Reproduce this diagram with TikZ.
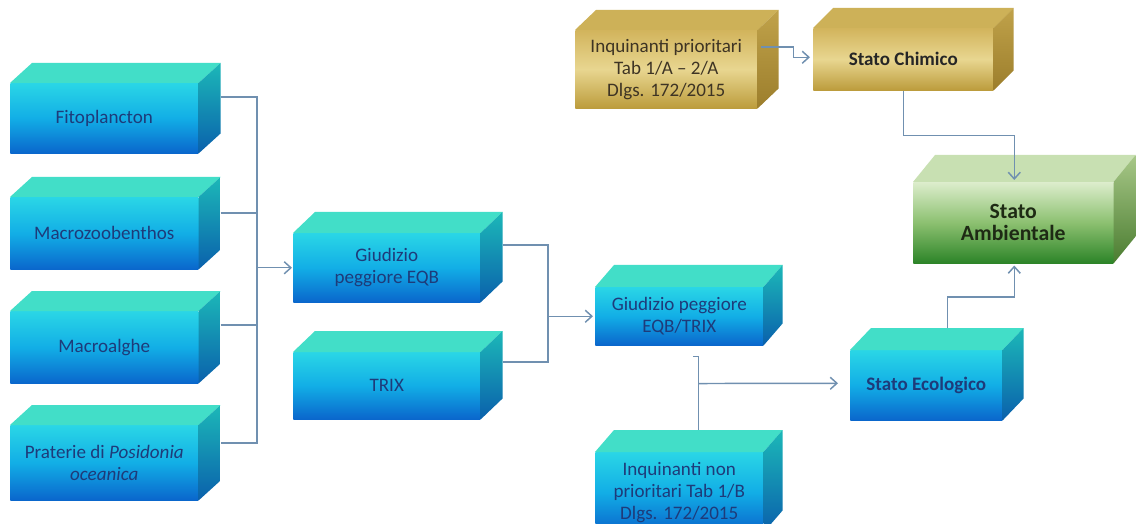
\documentclass[tikz,border=0pt]{standalone}
\usepackage{fontspec}
\setmainfont{Carlito}
\usetikzlibrary{calc,arrows.meta}
\definecolor{bl1}{HTML}{2AD6E6}
\definecolor{bl2}{HTML}{12AEE6}
\definecolor{bl3}{HTML}{0A66CC}
\definecolor{bltop}{HTML}{42DEC8}
\definecolor{blside1}{HTML}{1CB8B8}
\definecolor{blside2}{HTML}{0A60AC}
\definecolor{go1}{HTML}{D2B45C}
\definecolor{go2}{HTML}{E8D690}
\definecolor{go3}{HTML}{BC9C3C}
\definecolor{gotop}{HTML}{CDB158}
\definecolor{goside1}{HTML}{C0A24A}
\definecolor{goside2}{HTML}{9C7E2C}
\definecolor{gr1}{HTML}{DCEDCC}
\definecolor{gr2}{HTML}{8CC070}
\definecolor{gr3}{HTML}{2C8428}
\definecolor{grtop}{HTML}{C8E0B2}
\definecolor{grside1}{HTML}{A8C888}
\definecolor{grside2}{HTML}{4A7C30}
\definecolor{txtblue}{HTML}{1E3B7A}
\definecolor{txtgold}{HTML}{3E3424}
\definecolor{txtgreen}{HTML}{1E2A14}
\definecolor{connc}{HTML}{7090B0}
\newcommand\boxsides[6]{%
  \fill[#4] (#1.north west) -- ++(#2,-#3) -- ($(#1.north east)+(#2,-#3)$) -- (#1.north east) -- cycle;
  \shade[top color=#5,bottom color=#6] (#1.north east) -- ++(#2,-#3) -- ($(#1.south east)+(#2,-#3)$) -- (#1.south east) -- cycle;}
\begin{document}
\begin{tikzpicture}[x=0.75pt,y=-0.75pt,
  sz/.style 2 args={minimum width=#1*0.75pt, minimum height=#2*0.75pt},
  box/.style={draw=none, align=center, inner sep=1pt, anchor=north west,
    font=\fontsize{14.3}{16.5}\selectfont},
  bluebox/.style={box, text=txtblue, top color=bl1, bottom color=bl3, middle color=bl2},
  goldbox/.style={box, text=txtgold, top color=go1, bottom color=go3, middle color=go2},
  greenbox/.style={box, text=txtgreen, top color=gr1, bottom color=gr3, middle color=gr2},
  conn/.style={draw=connc, line width=1.1pt},
  arr/.style={conn, -{Straight Barb[length=5pt,width=9pt,line width=1.1pt]}}]
\useasboundingbox (0,0) rectangle (1136,524);
\fill[white] (0,0) rectangle (1136,524);
\clip (0,0) rectangle (1136,524);

% left column
\node[bluebox, sz={188}{70}] (fito) at (10,83) {Fitoplancton};
\node[bluebox, sz={188}{72}] (macro) at (10,197) {Macrozoobenthos};
\node[bluebox, sz={188}{72}] (alghe) at (10,311) {Macroalghe};
\node[bluebox, sz={188}{75}] (prat) at (10,425) {Praterie di \textit{Posidonia}\\\textit{oceanica}};
\boxsides{fito}{22}{20}{bltop}{blside1}{blside2}
\boxsides{macro}{22}{20}{bltop}{blside1}{blside2}
\boxsides{alghe}{22}{20}{bltop}{blside1}{blside2}
\boxsides{prat}{22}{20}{bltop}{blside1}{blside2}

% middle column
\node[bluebox, sz={187}{69}] (giud) at (293,233) {Giudizio\\peggiore EQB};
\node[bluebox, sz={187}{67}] (trix) at (293,352) {TRIX};
\boxsides{giud}{22}{21}{bltop}{blside1}{blside2}
\boxsides{trix}{22}{21}{bltop}{blside1}{blside2}

\node[bluebox, sz={168}{58}] (eqbtrix) at (595,287) {Giudizio peggiore\\EQB/TRIX};
\node[bluebox, sz={168}{80}] (inqnp) at (595,452) {Inquinanti non\\prioritari Tab 1/B\\Dlgs. 172/2015};
\boxsides{eqbtrix}{19}{22}{bltop}{blside1}{blside2}
\boxsides{inqnp}{19}{22}{bltop}{blside1}{blside2}

\node[bluebox, sz={152}{70}, font=\fontsize{14.3}{16.5}\selectfont\bfseries] (ecol) at (850,350) {Stato Ecologico};
\boxsides{ecol}{21}{22}{bltop}{blside1}{blside2}

% gold
\node[goldbox, sz={182}{78}] (inqp) at (575,30) {Inquinanti prioritari\\Tab 1/A -- 2/A\\Dlgs. 172/2015};
\node[goldbox, sz={180}{62}, font=\fontsize{14.3}{16.5}\selectfont\bfseries, text=black!85] (chim) at (813,28) {Stato Chimico};
\boxsides{inqp}{21}{20}{gotop}{goside1}{goside2}
\boxsides{chim}{20}{20}{gotop}{goside1}{goside2}

% green
\node[greenbox, sz={200}{81}, font=\fontsize{16.3}{16.5}\selectfont\bfseries] (amb) at (913,182) {Stato\\Ambientale};
\boxsides{amb}{22}{27}{grtop}{grside1}{grside2}

% connectors: left bus
\coordinate (busT) at (257,97);
\coordinate (busB) at (257,443);
\draw[conn] ($(fito.north east)+(22,14)$) -- (busT) -- (busB) -- ($(prat.north east)+(22,18)$);
\draw[conn] ($(macro.north east)+(22,16)$) -- ($(macro.north east)+(59,16)$);
\draw[conn] ($(alghe.north east)+(22,14)$) -- ($(alghe.north east)+(59,14)$);
\draw[arr] (busT |- giud.west) -- ($(giud.west)+(-1,0)$);

% giud/trix -> eqbtrix
\coordinate (j2) at (548,245);
\draw[conn] ($(giud.north east)+(22,12)$) -- (j2) |- ($(trix.north east)+(22,10)$);
\draw[arr] (j2 |- eqbtrix.west) -- ($(eqbtrix.west)+(-2,0)$);

% eqbtrix / inqnp -> ecol
\coordinate (t1) at ($(eqbtrix.south)+(19,11)$);
\coordinate (t0) at ($(t1)+(-5,0)$);
\coordinate (t2) at ($(inqnp.north)+(24,-22)$);
\draw[conn] (t0) -- (t1) -- (t1 |- t2);
\draw[arr] ($(t1)+(0,27)$) -- ($(ecol.west)+(-12,-2)$);

% inqp -> chim
\draw[arr] ($(inqp.north east)+(3,17)$) -- ++(33,0) |- ($(chim.west)+(-3,-2)$);

% chim -> amb
\draw[arr] (chim.south) -- ++(0,45) -| ($(amb.north)+(1,-2)$);

% ecol -> amb
\draw[arr] ($(ecol.north)+(21,-22)$) -- ++(0,-31) -| ($(amb.south)+(1,2)$);
\end{tikzpicture}
\end{document}
